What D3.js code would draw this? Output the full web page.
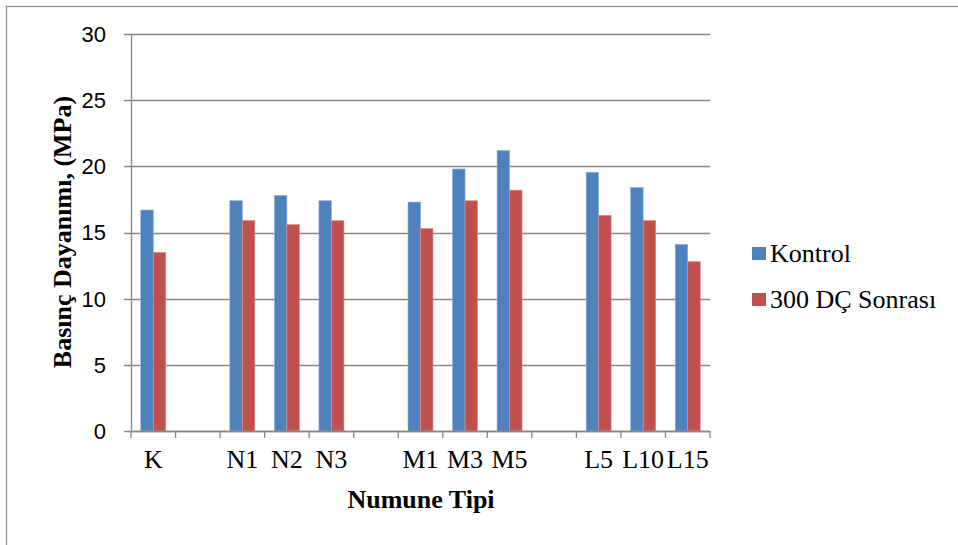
<!DOCTYPE html>
<html><head><meta charset="utf-8">
<script src="https://cdn.jsdelivr.net/npm/d3@7"></script>
<style>html,body{margin:0;padding:0;background:#fff;}svg{display:block;}</style>
</head><body>
<script>
const categories = ["K", "", "N1", "N2", "N3", "", "M1", "M3", "M5", "", "L5", "L10", "L15"];
const kontrol = [16.7, null, 17.4, 17.8, 17.4, null, 17.3, 19.8, 21.2, null, 19.55, 18.4, 14.1];
const sonrasi = [13.5, null, 15.9, 15.6, 15.9, null, 15.3, 17.4, 18.2, null, 16.3, 15.9, 12.8];
const seriesNames = ["Kontrol", "300 DÇ Sonrası"];
const seriesColors = ["#4F81BD", "#C0504D"];
const yTicks = [0, 5, 10, 15, 20, 25, 30];

const W = 958, H = 545;
const svg = d3.select("body").append("svg").attr("width", W).attr("height", H);
svg.append("rect").attr("x", 6.5).attr("y", 6.5).attr("width", W + 10).attr("height", H + 10)
  .attr("fill", "none").attr("stroke", "#8c8c8c").attr("stroke-width", 1.2);

const L = 131, R = 710, T = 34, B = 431;
const x = d3.scaleBand().domain(d3.range(categories.length)).range([L, R]).padding(0);
const y = d3.scaleLinear().domain([0, 30]).range([B, T]);
const bw = 12.5;
const serif = "Liberation Serif, Times New Roman, serif";

// gridlines
svg.append("g").selectAll("line").data(yTicks).join("line")
  .attr("x1", L - 7).attr("x2", R).attr("y1", d => Math.round(y(d)) + 0.5).attr("y2", d => Math.round(y(d)) + 0.5)
  .attr("stroke", "#878787").attr("stroke-width", 1.3);
// y axis line
svg.append("line").attr("x1", L + 0.5).attr("x2", L + 0.5).attr("y1", T).attr("y2", B)
  .attr("stroke", "#878787").attr("stroke-width", 1.3);
// y labels
svg.append("g").selectAll("text").data(yTicks).join("text")
  .attr("x", 106).attr("y", d => y(d)).attr("dy", "0.36em").attr("text-anchor", "end")
  .attr("font-family", "Liberation Sans, Arial, sans-serif").attr("font-size", 22).attr("fill", "#000")
  .text(d => d);

// bars
const series = [kontrol, sonrasi];
series.forEach((vals, si) => {
  svg.append("g").selectAll("rect").data(vals.map((v, i) => ({v, i})).filter(d => d.v != null)).join("rect")
    .attr("x", d => x(d.i) + x.bandwidth() / 2 - bw + si * bw)
    .attr("y", d => y(d.v)).attr("width", bw).attr("height", d => y(0) - y(d.v))
    .attr("fill", seriesColors[si])
    .attr("stroke", si === 0 ? "#8fb0d8" : "#d9908e").attr("stroke-width", 0.6);
});

// x axis line & ticks
svg.append("line").attr("x1", L).attr("x2", R).attr("y1", B + 0.5).attr("y2", B + 0.5)
  .attr("stroke", "#878787").attr("stroke-width", 1.3);
const bounds = d3.range(categories.length + 1).map(i => L + i * x.bandwidth());
svg.append("g").selectAll("line").data(bounds).join("line")
  .attr("x1", d => d).attr("x2", d => d).attr("y1", B).attr("y2", B + 7)
  .attr("stroke", "#878787").attr("stroke-width", 1.3);
svg.append("g").selectAll("text").data(categories).join("text")
  .attr("x", (d, i) => x(i) + x.bandwidth() / 2).attr("y", 468).attr("text-anchor", "middle")
  .attr("font-family", serif).attr("font-size", 26).attr("fill", "#000")
  .text(d => d);

// axis titles
svg.append("text").attr("x", 421).attr("y", 508).attr("text-anchor", "middle")
  .attr("font-family", serif).attr("font-size", 26).attr("font-weight", "bold")
  .text("Numune Tipi");
svg.append("text").attr("transform", "translate(71,232) rotate(-90)").attr("text-anchor", "middle")
  .attr("font-family", serif).attr("font-size", 26).attr("font-weight", "bold")
  .text("Basınç Dayanımı, (MPa)");

// legend
seriesNames.forEach((n, i) => {
  const ly = 254 + i * 46;
  svg.append("rect").attr("x", 752).attr("y", ly - 7).attr("width", 14).attr("height", 13).attr("fill", seriesColors[i]);
  svg.append("text").attr("x", 770).attr("y", ly + 8)
    .attr("font-family", serif).attr("font-size", 26).attr("fill", "#000").text(n);
});
</script>
</body></html>
